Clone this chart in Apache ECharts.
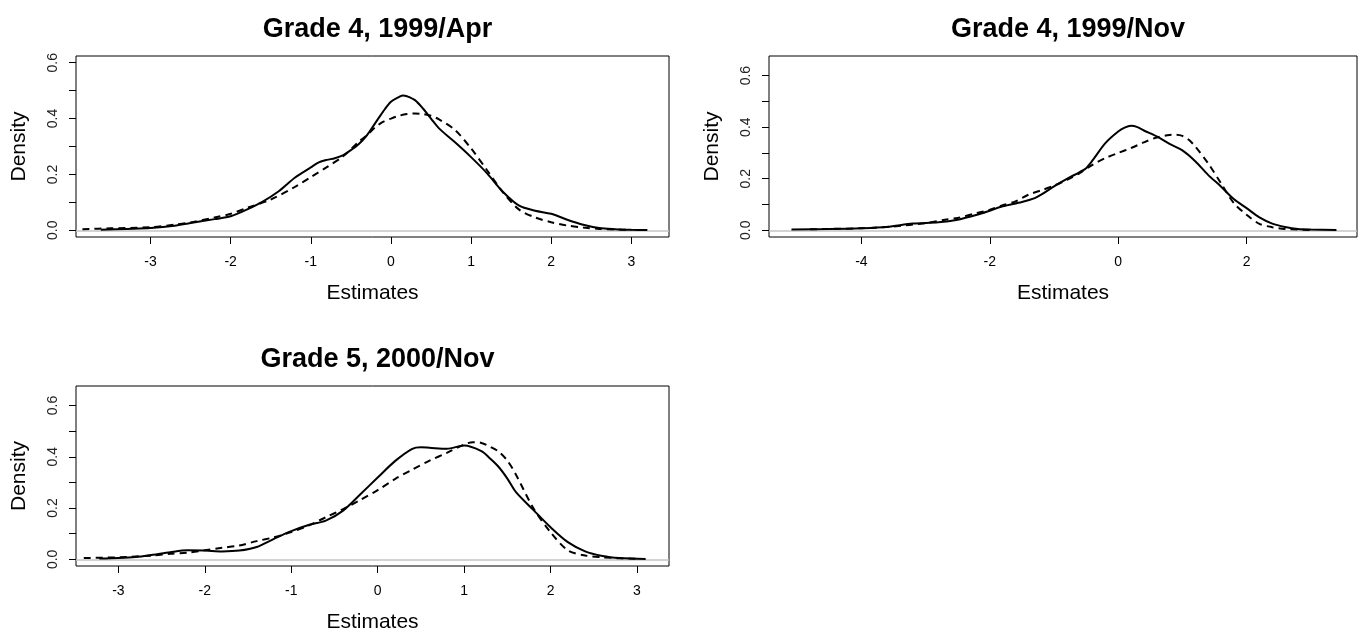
<!DOCTYPE html>
<html>
<head>
<meta charset="utf-8">
<script src="https://cdn.jsdelivr.net/npm/echarts@6/dist/echarts.min.js"></script>
<style>
html,body{margin:0;padding:0;background:#fff;}
#c{width:1370px;height:634px;}
</style>
</head>
<body>
<div id="c"></div>
<script>
// ---- Data ----
var titles = ["Grade 4, 1999/Apr", "Grade 4, 1999/Nov", "Grade 5, 2000/Nov"];
var xTicks1 = [-3,-2,-1,0,1,2,3];
var xTicks2 = [-4,-2,0,2];
var xTicks3 = [-3,-2,-1,0,1,2,3];
var yTicks = [0,0.1,0.2,0.3,0.4,0.5,0.6];
var yLabels = [0,0.2,0.4,0.6];

var p1SolidX = [-3.62,-3.3,-3,-2.7,-2.5,-2.2,-2,-1.8,-1.6,-1.4,-1.2,-1.0,-0.9,-0.8,-0.7,-0.6,-0.5,-0.4,-0.3,-0.2,-0.1,0,0.1,0.15,0.2,0.3,0.4,0.5,0.6,0.8,1.0,1.2,1.4,1.6,1.8,2.0,2.2,2.4,2.6,2.8,3.0,3.2];
var p1SolidY = [0.002,0.005,0.008,0.016,0.026,0.04,0.05,0.074,0.103,0.14,0.188,0.225,0.243,0.252,0.258,0.268,0.287,0.309,0.34,0.382,0.424,0.46,0.477,0.483,0.48,0.466,0.436,0.40,0.365,0.315,0.262,0.204,0.137,0.088,0.07,0.059,0.038,0.02,0.008,0.004,0.002,0.001];
var p1DashX = [-3.85,-3.5,-3,-2.7,-2.5,-2.2,-2,-1.8,-1.5,-1.2,-1,-0.8,-0.6,-0.4,-0.3,-0.2,-0.1,0,0.1,0.2,0.3,0.4,0.5,0.6,0.8,1.0,1.2,1.4,1.6,1.8,2.0,2.2,2.4,2.6,2.8,3.0];
var p1DashY = [0.004,0.007,0.011,0.02,0.028,0.046,0.059,0.08,0.11,0.155,0.19,0.226,0.264,0.317,0.34,0.368,0.388,0.40,0.41,0.416,0.418,0.416,0.41,0.397,0.359,0.293,0.215,0.135,0.074,0.046,0.029,0.017,0.01,0.005,0.003,0.001];

var p2SolidX = [-5.09,-4.5,-4,-3.6,-3.2,-2.8,-2.5,-2.2,-2.0,-1.8,-1.5,-1.3,-1.2,-1.0,-0.8,-0.6,-0.5,-0.4,-0.2,0,0.1,0.2,0.3,0.4,0.6,0.8,1.0,1.2,1.4,1.6,1.8,2.0,2.2,2.4,2.6,2.8,3.0,3.4];
var p2SolidY = [0.003,0.005,0.008,0.013,0.026,0.031,0.041,0.06,0.076,0.093,0.11,0.125,0.138,0.17,0.199,0.226,0.241,0.271,0.338,0.383,0.398,0.405,0.4,0.387,0.364,0.335,0.31,0.268,0.215,0.17,0.121,0.086,0.05,0.026,0.013,0.005,0.003,0.001];
var p2DashX = [-4.8,-4,-3.5,-3,-2.7,-2.5,-2.2,-2.0,-1.8,-1.6,-1.4,-1.2,-1.0,-0.8,-0.6,-0.4,-0.2,0,0.2,0.4,0.6,0.8,0.9,1.0,1.1,1.2,1.4,1.6,1.8,2.0,2.2,2.4,2.6,2.8,3.0];
var p2DashY = [0.004,0.008,0.015,0.028,0.041,0.048,0.067,0.08,0.097,0.112,0.138,0.155,0.173,0.196,0.222,0.254,0.28,0.30,0.319,0.341,0.36,0.37,0.371,0.366,0.351,0.325,0.26,0.183,0.106,0.06,0.025,0.012,0.005,0.003,0.001];

var p3SolidX = [-3.22,-3,-2.8,-2.6,-2.4,-2.2,-2.0,-1.8,-1.6,-1.4,-1.2,-1.0,-0.8,-0.6,-0.4,-0.2,0,0.2,0.4,0.5,0.6,0.8,1.0,1.2,1.3,1.4,1.5,1.6,1.8,2.0,2.2,2.4,2.6,2.8,3.1];
var p3SolidY = [0.003,0.005,0.009,0.018,0.028,0.035,0.034,0.031,0.034,0.048,0.08,0.11,0.134,0.151,0.19,0.254,0.319,0.383,0.431,0.437,0.435,0.431,0.444,0.422,0.393,0.36,0.315,0.262,0.193,0.125,0.067,0.031,0.013,0.005,0.001];
var p3DashX = [-3.4,-3,-2.6,-2.4,-2.2,-2.0,-1.8,-1.6,-1.4,-1.2,-1.0,-0.8,-0.6,-0.4,-0.2,0,0.2,0.4,0.6,0.8,1.0,1.1,1.2,1.3,1.4,1.5,1.6,1.8,2.0,2.2,2.4,2.6,2.8,3.0];
var p3DashY = [0.005,0.008,0.015,0.022,0.026,0.035,0.045,0.054,0.071,0.086,0.106,0.132,0.164,0.196,0.232,0.27,0.313,0.35,0.385,0.415,0.448,0.457,0.454,0.439,0.42,0.385,0.33,0.2,0.106,0.035,0.015,0.008,0.004,0.002];

// ---- Build ----
function pairs(xs, ys){ return xs.map(function(x,i){ return [x, ys[i]]; }); }
var FONT = '"Liberation Sans", Arial, sans-serif';

var panels = [
  {grid:{left:76, top:56, width:593, height:181}, xMin:-3.93, xMax:3.47, yMin:-0.024, yMax:0.624, xt:xTicks1,
   solid:pairs(p1SolidX,p1SolidY), dash:pairs(p1DashX,p1DashY), titleTop:11},
  {grid:{left:769, top:56, width:588, height:181}, xMin:-5.44, xMax:3.72, yMin:-0.026, yMax:0.676, xt:xTicks2,
   solid:pairs(p2SolidX,p2SolidY), dash:pairs(p2DashX,p2DashY), titleTop:11},
  {grid:{left:76, top:386, width:593, height:181}, xMin:-3.49, xMax:3.37, yMin:-0.026, yMax:0.676, xt:xTicks3,
   solid:pairs(p3SolidX,p3SolidY), dash:pairs(p3DashX,p3DashY), titleTop:341}
];

var option = {
  backgroundColor:'#fff',
  animation:false,
  title:[], grid:[], xAxis:[], yAxis:[], series:[]
};

panels.forEach(function(p, i){
  option.title.push({
    text: titles[i],
    left: p.grid.left + p.grid.width/2,
    top: p.titleTop,
    textAlign:'center',
    textStyle:{fontFamily:FONT, fontWeight:'bold', fontSize:27, color:'#000'}
  });
  option.grid.push({left:p.grid.left, top:p.grid.top, width:p.grid.width, height:p.grid.height,
    show:true, borderColor:'#000', borderWidth:1, backgroundColor:'transparent', containLabel:false});
  option.xAxis.push({
    type:'value', gridIndex:i, min:p.xMin, max:p.xMax, position:'bottom',
    name:'Estimates', nameLocation:'middle', nameGap:46,
    nameTextStyle:{fontFamily:FONT, fontSize:21, color:'#000'},
    axisLine:{show:false, onZero:false},
    splitLine:{show:false},
    axisTick:{show:true, inside:false, length:7, lineStyle:{color:'#000', width:1}, customValues:p.xt},
    axisLabel:{show:true, margin:18, fontFamily:FONT, fontSize:14, color:'#000', customValues:p.xt,
      formatter:function(v){ return String(Math.round(v)); }}
  });
  option.yAxis.push({
    type:'value', gridIndex:i, min:p.yMin, max:p.yMax, position:'left',
    name:'Density', nameLocation:'middle', nameGap:46,
    nameTextStyle:{fontFamily:FONT, fontSize:21, color:'#000'},
    axisLine:{show:false, onZero:false},
    splitLine:{show:false},
    axisTick:{show:true, inside:false, length:7, lineStyle:{color:'#000', width:1}, customValues:yTicks},
    axisLabel:{show:true, rotate:90, margin:16, fontFamily:FONT, fontSize:14, color:'#222', customValues:yLabels,
      formatter:function(v){ return v.toFixed(1); }}
  });
  option.series.push({
    type:'line', xAxisIndex:i, yAxisIndex:i, data:p.solid, showSymbol:false, smooth:0.3,
    lineStyle:{color:'#000', width:2, type:'solid'}, z:3,
    markLine:{silent:true, symbol:['none','none'], label:{show:false}, animation:false,
      lineStyle:{color:'#c4c4c4', width:1.5, type:'solid'}, data:[{yAxis:0}], z:1}
  });
  option.series.push({
    type:'line', xAxisIndex:i, yAxisIndex:i, data:p.dash, showSymbol:false, smooth:0.3,
    lineStyle:{color:'#000', width:2, type:[7,5]}, z:4
  });
});

var chart = echarts.init(document.getElementById('c'), null, {renderer:'canvas'});
chart.setOption(option);
</script>
</body>
</html>
